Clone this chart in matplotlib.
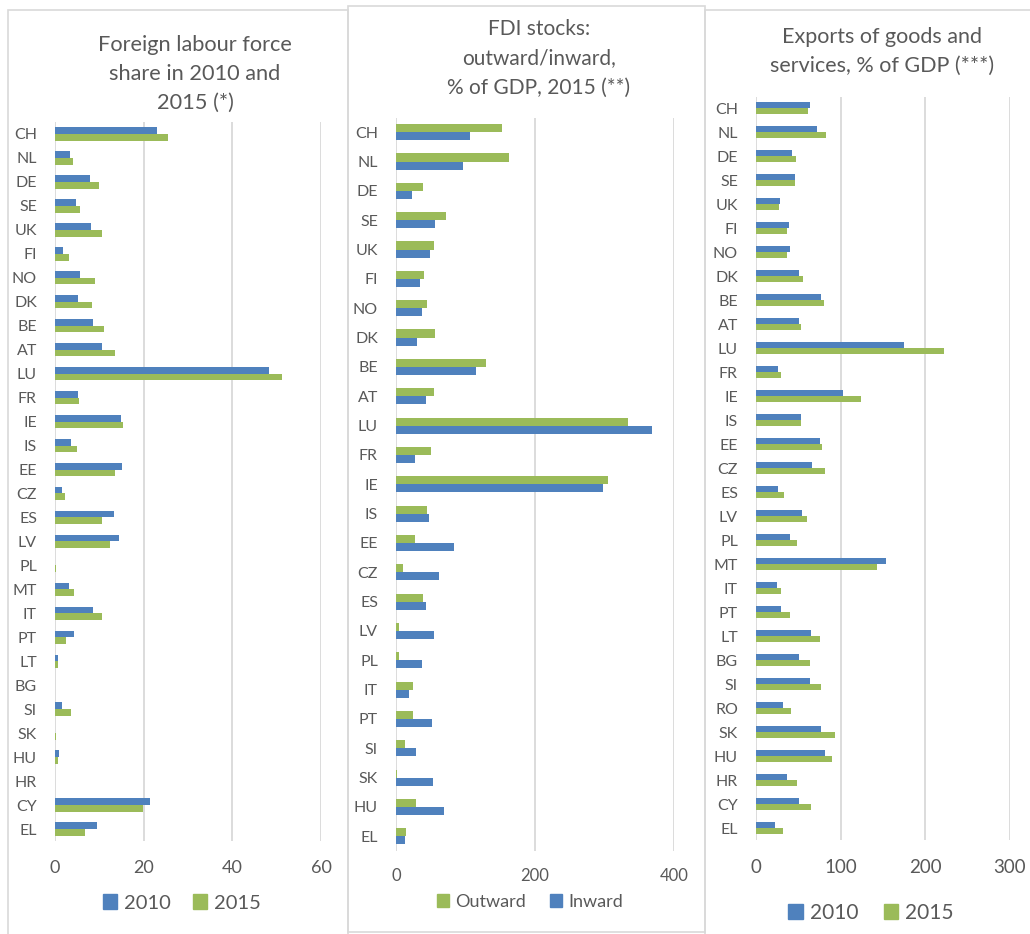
import matplotlib
matplotlib.use("Agg")
import matplotlib.pyplot as plt
from matplotlib.patches import Rectangle, Patch
import numpy as np

plt.rcParams['font.family'] = ['Lato', 'DejaVu Sans']

# --- data ---------------------------------------------------------------
# panel 1: foreign labour force share, %
labour_countries = ['CH', 'NL', 'DE', 'SE', 'UK', 'FI', 'NO', 'DK', 'BE', 'AT',
                    'LU', 'FR', 'IE', 'IS', 'EE', 'CZ', 'ES', 'LV', 'PL', 'MT',
                    'IT', 'PT', 'LT', 'BG', 'SI', 'SK', 'HU', 'HR', 'CY', 'EL']
labour_2010 = [23.1, 3.4, 7.9, 4.7, 8.2, 1.9, 5.6, 5.3, 8.5, 10.6,
               48.2, 5.3, 15.0, 3.6, 15.2, 1.5, 13.2, 14.5, 0.0, 3.2,
               8.6, 4.3, 0.6, 0.0, 1.5, 0.1, 0.8, 0.1, 21.4, 9.5]
labour_2015 = [25.6, 4.0, 9.9, 5.6, 10.5, 3.1, 9.1, 8.3, 11.0, 13.5,
               51.2, 5.4, 15.3, 4.9, 13.5, 2.2, 10.7, 12.3, 0.3, 4.3,
               10.6, 2.4, 0.6, 0.0, 3.6, 0.3, 0.6, 0.1, 19.9, 6.8]

# panel 2: FDI stocks, % of GDP, 2015
fdi_countries = ['CH', 'NL', 'DE', 'SE', 'UK', 'FI', 'NO', 'DK', 'BE', 'AT',
                 'LU', 'FR', 'IE', 'IS', 'EE', 'CZ', 'ES', 'LV', 'PL', 'IT',
                 'PT', 'SI', 'SK', 'HU', 'EL']
fdi_outward = [153, 162, 39, 72, 54, 40, 44, 56, 130, 55,
               334, 51, 305, 45, 27, 10, 39, 5, 4, 25,
               24, 13, 2, 29, 14]
fdi_inward = [107, 97, 23, 56, 49, 35, 38, 30, 115, 43,
              368, 28, 298, 47, 84, 62, 43, 54, 38, 18,
              52, 29, 53, 69, 13]

# panel 3: exports of goods and services, % of GDP
exp_countries = ['CH', 'NL', 'DE', 'SE', 'UK', 'FI', 'NO', 'DK', 'BE', 'AT',
                 'LU', 'FR', 'IE', 'IS', 'EE', 'CZ', 'ES', 'LV', 'PL', 'MT',
                 'IT', 'PT', 'LT', 'BG', 'SI', 'RO', 'SK', 'HU', 'HR', 'CY', 'EL']
exp_2010 = [64, 72, 42, 46, 28, 39, 40, 51, 77, 51,
            175, 26, 103, 53, 75, 66, 26, 54, 40, 153,
            25, 30, 65, 51, 64, 32, 77, 82, 37, 51, 22]
exp_2015 = [62, 83, 47, 46, 27, 37, 37, 55, 80, 53,
            222, 30, 124, 53, 78, 81, 33, 60, 49, 143,
            30, 40, 75, 64, 77, 41, 93, 90, 48, 65, 32]

BLUE = '#4f81bd'
GREEN = '#9bbb59'
GRID = '#d9d9d9'
TXT = '#595959'

W, H = 1030, 934
fig = plt.figure(figsize=(W / 100, H / 100), dpi=100)


def rect(l, r, t, b):
    return [l / W, 1 - b / H, (r - l) / W, (b - t) / H]


def fx(x):
    return x / W


def fy(y):
    return 1 - y / H


# panel frames
for l, r, t, b in [(8, 348, 10, 940), (348, 705, 6, 932), (705, 1040, 10, 940)]:
    fig.patches.append(Rectangle((fx(l), fy(b)), (r - l) / W, (b - t) / H,
                                 transform=fig.transFigure, fill=False,
                                 edgecolor=GRID, linewidth=1.2, zorder=0))


def bar_panel(box, cats, top_vals, bot_vals, top_col, bot_col, xmax, step, h):
    ax = fig.add_axes(rect(*box))
    y = np.arange(len(cats))
    ax.barh(y - h / 2, top_vals, height=h, color=top_col, zorder=3)
    ax.barh(y + h / 2, bot_vals, height=h, color=bot_col, zorder=3)
    ax.set_xlim(0, xmax)
    ax.set_ylim(len(cats) - 0.5, -0.5)
    ax.set_xticks(np.arange(0, xmax + 1, step))
    ax.set_yticks(y)
    ax.set_yticklabels(cats)
    ax.grid(axis='x', color=GRID, linewidth=1.3, zorder=0)
    for s in ax.spines.values():
        s.set_visible(False)
    ax.tick_params(axis='y', length=0, pad=13, labelsize=11.5, labelcolor=TXT)
    ax.tick_params(axis='x', length=0, pad=14, labelsize=13, labelcolor=TXT)
    return ax


ax1 = bar_panel((55, 321, 122, 841), labour_countries, labour_2010, labour_2015,
                BLUE, GREEN, 60, 20, 0.28)
ax2 = bar_panel((396, 674, 117.5, 851), fdi_countries, fdi_outward, fdi_inward,
                GREEN, BLUE, 400, 200, 0.275)
ax2.tick_params(axis='x', labelsize=12, pad=12)
ax3 = bar_panel((756, 1010, 96.5, 840), exp_countries, exp_2010, exp_2015,
                BLUE, GREEN, 300, 100, 0.25)
ax3.tick_params(axis='x', labelsize=13.5, pad=14)


# titles, one line at a time (baseline positions in pixels)
def title(lines, x, baselines, size):
    for line, yb in zip(lines, baselines):
        fig.text(fx(x), fy(yb), line, ha='center', va='baseline',
                 fontsize=size, color=TXT)


title(['Foreign labour force', 'share in 2010 and', '2015 (*)'],
      195, [51, 80, 108.5], 15.7)
title(['FDI stocks:', 'outward/inward,', '% of GDP, 2015 (**)'],
      539, [35, 64.5, 94], 15)
title(['Exports of goods and', 'services, % of GDP (***)'],
      882, [43, 72], 15.5)


# legends
def legend(items, x, y, size, colsp):
    handles = [Patch(color=c, label=lab) for lab, c in items]
    fig.legend(handles=handles, loc='center', bbox_to_anchor=(fx(x), fy(y)),
               ncol=len(items), frameon=False, fontsize=size,
               handlelength=0.7, handleheight=0.7, handletextpad=0.35,
               columnspacing=colsp, labelcolor=TXT)


legend([('2010', BLUE), ('2015', GREEN)], 182, 903, 14.5, 1.1)
legend([('Outward', GREEN), ('Inward', BLUE)], 530, 902, 13, 1.3)
legend([('2010', BLUE), ('2015', GREEN)], 871, 913, 15, 1.2)

fig.savefig('out.png', dpi=100)
